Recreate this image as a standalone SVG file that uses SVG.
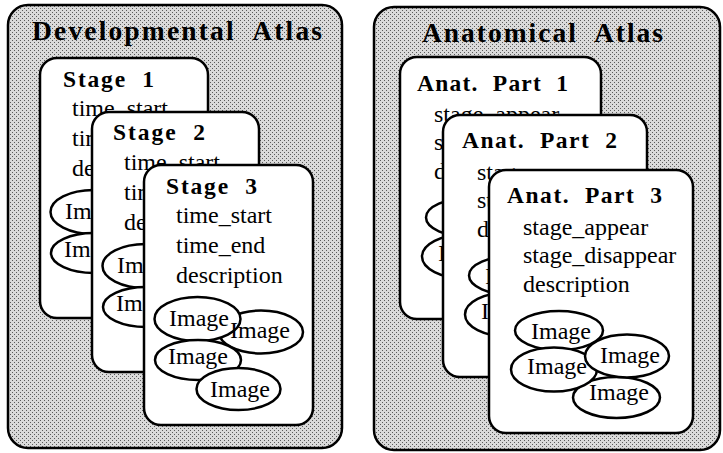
<svg xmlns="http://www.w3.org/2000/svg" width="723" height="453" viewBox="0 0 723 453">
<defs>
<pattern id="dots" width="4" height="4" patternUnits="userSpaceOnUse">
<rect width="4" height="4" fill="#dadada"/>
<rect x="0" y="0" width="1" height="1" fill="#5a5a5a"/>
<rect x="2" y="2" width="1" height="1" fill="#5a5a5a"/>
</pattern>
</defs>
<style>
.atlas{fill:url(#dots);stroke:#000;stroke-width:2.5}
.card{fill:#fff;stroke:#000;stroke-width:2.5}
.img{fill:#fff;stroke:#000;stroke-width:2.5}
.t{font-family:"Liberation Serif","Times New Roman",serif;font-weight:bold;fill:#000;white-space:pre}
.a{font-family:"Liberation Serif","Times New Roman",serif;font-size:24px;fill:#000}
.i{font-family:"Liberation Serif","Times New Roman",serif;font-size:24px;fill:#000;text-anchor:middle}
</style>
<rect width="723" height="453" fill="#fff"/>

<g id="developmental-atlas">
<rect class="atlas" x="8" y="5" width="334" height="443" rx="20"/>
<text class="t" x="32" y="40" font-size="27.5" textLength="290" lengthAdjust="spacing">Developmental  Atlas</text>
</g>

<g id="stage1" transform="translate(40,58)">
<rect class="card" x="0" y="0" width="168" height="260" rx="17"/>
<text class="t" x="23" y="29" font-size="23.5" textLength="91" lengthAdjust="spacing">Stage  1</text>
<text class="a" x="32" y="58">time_start</text>
<text class="a" x="32" y="88">time_end</text>
<text class="a" x="32" y="118">description</text>
<ellipse class="img" cx="117" cy="167" rx="42" ry="21.5"/>
<ellipse class="img" cx="53.5" cy="154" rx="43" ry="22"/>
<ellipse class="img" cx="54" cy="195" rx="43" ry="20"/>
<ellipse class="img" cx="94.5" cy="224" rx="42" ry="21"/>
<text class="i" x="55" y="161">Image</text>
<text class="i" x="116" y="173">Image</text>
<text class="i" x="54" y="199">Image</text>
<text class="i" x="96" y="232">Image</text>
</g>

<g id="stage2" transform="translate(92,112)">
<rect class="card" x="0" y="0" width="167" height="260" rx="17"/>
<text class="t" x="21" y="28" font-size="23.5" textLength="92" lengthAdjust="spacing">Stage  2</text>
<text class="a" x="32" y="58">time_start</text>
<text class="a" x="32" y="88">time_end</text>
<text class="a" x="32" y="118">description</text>
<ellipse class="img" cx="117" cy="167" rx="42" ry="21.5"/>
<ellipse class="img" cx="53.5" cy="154" rx="43" ry="22"/>
<ellipse class="img" cx="54" cy="195" rx="43" ry="20"/>
<ellipse class="img" cx="94.5" cy="224" rx="42" ry="21"/>
<text class="i" x="55" y="161">Image</text>
<text class="i" x="116" y="173">Image</text>
<text class="i" x="54" y="199">Image</text>
<text class="i" x="96" y="232">Image</text>
</g>

<g id="stage3" transform="translate(144,165)">
<rect class="card" x="0" y="0" width="169" height="260" rx="17"/>
<text class="t" x="22" y="29" font-size="23.5" textLength="91" lengthAdjust="spacing">Stage  3</text>
<text class="a" x="32" y="58">time_start</text>
<text class="a" x="32" y="88">time_end</text>
<text class="a" x="32" y="118">description</text>
<ellipse class="img" cx="117" cy="167" rx="42" ry="21.5"/>
<ellipse class="img" cx="53.5" cy="154" rx="43" ry="22"/>
<ellipse class="img" cx="54" cy="195" rx="43" ry="20"/>
<ellipse class="img" cx="94.5" cy="224" rx="42" ry="21"/>
<text class="i" x="55" y="161">Image</text>
<text class="i" x="116" y="173">Image</text>
<text class="i" x="54" y="199">Image</text>
<text class="i" x="96" y="232">Image</text>
</g>

<g id="anatomical-atlas">
<rect class="atlas" x="374" y="7" width="346" height="443" rx="20"/>
<text class="t" x="422" y="42" font-size="27.5" textLength="241" lengthAdjust="spacing">Anatomical  Atlas</text>
</g>

<g id="part1" transform="translate(400,57)">
<rect class="card" x="0" y="0" width="201" height="262" rx="17"/>
<text class="t" x="17" y="34" font-size="23.5" textLength="151" lengthAdjust="spacing">Anat.  Part  1</text>
<text class="a" x="34" y="65">stage_appear</text>
<text class="a" x="34" y="93">stage_disappear</text>
<text class="a" x="34" y="122">description</text>
<ellipse class="img" cx="70" cy="160.5" rx="44" ry="19.5"/>
<ellipse class="img" cx="127.5" cy="227.5" rx="43.5" ry="20.5"/>
<ellipse class="img" cx="65" cy="199.5" rx="43" ry="22"/>
<ellipse class="img" cx="138" cy="186" rx="42" ry="21.5"/>
<text class="i" x="72" y="169">Image</text>
<text class="i" x="130" y="230">Image</text>
<text class="i" x="68" y="204">Image</text>
<text class="i" x="141" y="193">Image</text>
</g>

<g id="part2" transform="translate(443,115)">
<rect class="card" x="0" y="0" width="204" height="262" rx="17"/>
<text class="t" x="19" y="33" font-size="23.5" textLength="155" lengthAdjust="spacing">Anat.  Part  2</text>
<text class="a" x="34" y="65">stage_appear</text>
<text class="a" x="34" y="93">stage_disappear</text>
<text class="a" x="34" y="122">description</text>
<ellipse class="img" cx="70" cy="160.5" rx="44" ry="19.5"/>
<ellipse class="img" cx="127.5" cy="227.5" rx="43.5" ry="20.5"/>
<ellipse class="img" cx="65" cy="199.5" rx="43" ry="22"/>
<ellipse class="img" cx="138" cy="186" rx="42" ry="21.5"/>
<text class="i" x="72" y="169">Image</text>
<text class="i" x="130" y="230">Image</text>
<text class="i" x="68" y="204">Image</text>
<text class="i" x="141" y="193">Image</text>
</g>

<g id="part3" transform="translate(489,170)">
<rect class="card" x="0" y="0" width="204" height="263" rx="17"/>
<text class="t" x="18" y="33" font-size="23.5" textLength="155" lengthAdjust="spacing">Anat.  Part  3</text>
<text class="a" x="34" y="65">stage_appear</text>
<text class="a" x="34" y="93">stage_disappear</text>
<text class="a" x="34" y="122">description</text>
<ellipse class="img" cx="70" cy="160.5" rx="44" ry="19.5"/>
<ellipse class="img" cx="127.5" cy="227.5" rx="43.5" ry="20.5"/>
<ellipse class="img" cx="65" cy="199.5" rx="43" ry="22"/>
<ellipse class="img" cx="138" cy="186" rx="42" ry="21.5"/>
<text class="i" x="72" y="169">Image</text>
<text class="i" x="130" y="230">Image</text>
<text class="i" x="68" y="204">Image</text>
<text class="i" x="141" y="193">Image</text>
</g>

<g id="connectors"/>
</svg>
